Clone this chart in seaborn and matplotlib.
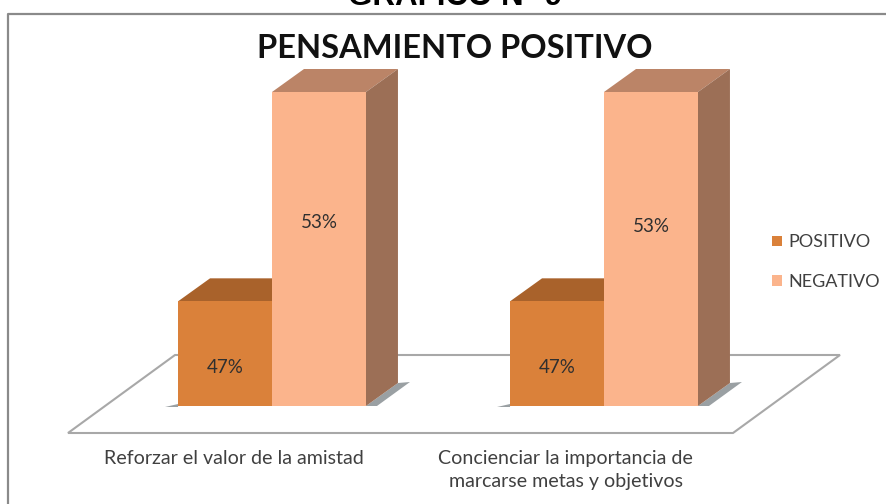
import matplotlib
matplotlib.use("Agg")
import matplotlib.pyplot as plt
import pandas as pd
import seaborn as sns
from matplotlib.patches import Polygon
from matplotlib.transforms import IdentityTransform

W, H = 886, 504

# ---------- Data ----------
categories = ["Reforzar el valor de la amistad",
              "Concienciar la importancia de\nmarcarse metas y objetivos"]
positivo = [47, 47]
negativo = [53, 53]
series_names = ["POSITIVO", "NEGATIVO"]

# ---------- Colours ----------
front_colors = ["#DA813A", "#FBB48C"]
top_colors = ["#A9622B", "#BB8467"]
side_colors = ["#8F5526", "#9C6F56"]
shadow_color = "#9AA0A3"
line_color = "#A8A8A8"
text_color = "#404040"

df = pd.DataFrame({
    "categoria": categories * 2,
    "serie": [series_names[0]] * 2 + [series_names[1]] * 2,
    "valor": positivo + negativo,
})


def fx(x):
    return x / W


def fy(y):
    return 1 - y / H


sns.set_theme(style="white")
plt.rcParams["font.family"] = ["Lato", "DejaVu Sans"]

fig = plt.figure(figsize=(W / 100, H / 100), dpi=100)
# axes box: baseline of the bars at y=406, tallest bar front at y=92
ax = fig.add_axes([fx(106), fy(406), fx(770) - fx(106), fy(92) - fy(406)])
ax.patch.set_alpha(0)

sns.barplot(data=df, x="categoria", y="valor", hue="serie", hue_order=series_names,
            palette=front_colors, saturation=1, width=0.566, gap=0, linewidth=0, ax=ax, zorder=2)
ax.set_xlim(-0.5, 1.5)
ax.set_ylim(44, 53)
ax.set_xlabel("")
ax.set_ylabel("")
ax.set_yticks([])
sns.despine(ax=ax, left=True, bottom=True)

# x labels sit left of the bars, as in a 3D excel chart
ax.set_xticks([i - 0.115 for i in range(len(categories))], categories)
ax.tick_params(axis="x", length=0, pad=32)
for lab in ax.get_xticklabels():
    lab.set_fontsize(14.1)
    lab.set_color(text_color)
    lab.set_linespacing(1.42)

# ---------- Fake 3D: faces built from the bars ----------
fig.canvas.draw()
depth_x, depth_y = 32, 23  # pixels


def add_face(points, color, zorder):
    ax.add_patch(Polygon(points, closed=True, facecolor=color, edgecolor="none",
                         transform=IdentityTransform(), clip_on=False, zorder=zorder))


for s, container in enumerate(ax.containers):
    for bar in container:
        (x0, y0), (x1, y1) = ax.transData.transform(
            [(bar.get_x(), ax.get_ylim()[0]),
             (bar.get_x() + bar.get_width(), bar.get_height())])
        add_face([(x0, y1), (x1, y1), (x1 + depth_x, y1 + depth_y), (x0 + depth_x, y1 + depth_y)],
                 top_colors[s], 1.5)
        add_face([(x1, y0), (x1 + depth_x, y0 + depth_y), (x1 + depth_x, y1 + depth_y), (x1, y1)],
                 side_colors[s], 1.5)
        if s == 1:
            add_face([(x1, y0), (x1 + depth_x, y0 + depth_y), (x1 + depth_x + 12, y0 + depth_y + 1),
                      (x1 + 11, y0)], shadow_color, 1.2)
        else:
            add_face([(x0 - 13, y0 - 1), (x0, y0 + 2), (x0, y0 - 1)], shadow_color, 1.2)

# floor of the 3D chart
floor = [(68, 433), (733, 433), (840, 355), (175, 355)]
fig.add_artist(Polygon([(fx(x), fy(y)) for x, y in floor], closed=True, facecolor="none",
                       edgecolor=line_color, lw=1.5, transform=fig.transFigure, zorder=0))
ax.set_zorder(2)

# ---------- Value labels ----------
label_drop = [[-66, -66], [-131, -135]]  # pixels below the top of the bar
for s, container in enumerate(ax.containers):
    for i, bar in enumerate(container):
        ax.annotate(f"{bar.get_height():.0f}%",
                    (bar.get_x() + bar.get_width() / 2, bar.get_height()),
                    xytext=(0, label_drop[s][i] * 0.72), textcoords="offset points",
                    ha="center", va="center", fontsize=13.5, color="#2f2f2f", zorder=5)

# ---------- Legend ----------
ax.legend(title=None, frameon=False, loc="center left",
          bbox_to_anchor=(fx(772), fy(262)), bbox_transform=fig.transFigure,
          borderpad=0, borderaxespad=0,
          handlelength=0.55, handleheight=0.55, handletextpad=0.33,
          labelspacing=1.28, fontsize=13, labelcolor=text_color)

# ---------- Titles and frame ----------
fig.text(fx(455), fy(5), "GRÁFICO N° 9", family="Liberation Sans", fontweight="bold",
         fontsize=22.5, ha="center", va="baseline", color="black")
fig.text(fx(455), fy(58), "PENSAMIENTO POSITIVO", fontweight="bold", fontsize=23.5,
         ha="center", va="baseline", color="#111111")

frame_x = [fx(8), fx(8), fx(886)]
frame_y = [fy(504), fy(14), fy(14)]
fig.add_artist(plt.Line2D(frame_x, frame_y, color="#8A8A8A", lw=1.6, transform=fig.transFigure))

fig.savefig("out.png", dpi=100)
